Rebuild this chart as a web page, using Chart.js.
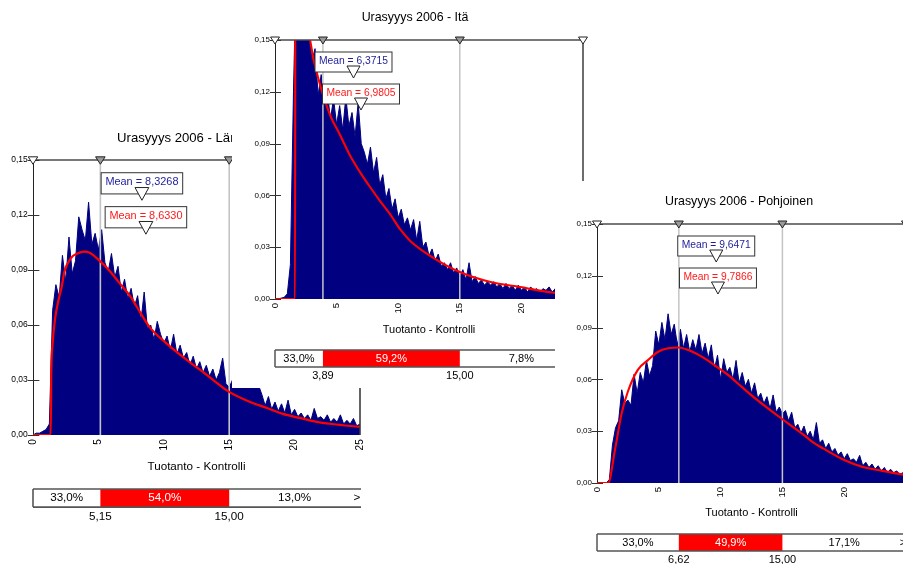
<!DOCTYPE html>
<html>
<head>
<meta charset="utf-8">
<script src="https://cdn.jsdelivr.net/npm/chart.js@4.4.0/dist/chart.umd.min.js"></script>
<style>
  html, body { margin: 0; padding: 0; background: #fff; overflow: hidden; }
  #stage { position: relative; width: 903px; height: 564px; overflow: hidden; background: #fff; }
  .panel { position: absolute; background: #fff; }
  .panel canvas { display: block; }
</style>
</head>
<body>
<div id="stage"></div>
<script>
const FONT = "'Liberation Sans', Arial, Helvetica, sans-serif";

// histogram bins start at 0 and are 0.25 wide
const binStep = 0.25;
const xTicks = [0, 5, 10, 15, 20, 25];
const yTicks = [0, 0.03, 0.06, 0.09, 0.12, 0.15];

const titles = ['Urasyyys 2006 - Länsi', 'Urasyyys 2006 - Itä', 'Urasyyys 2006 - Pohjoinen'];
const axisTitle = 'Tuotanto - Kontrolli';

const histLansi = [
  0.000, 0.001, 0.001, 0.002, 0.003, 0.006, 0.068, 0.082, 0.075, 0.098,
  0.084, 0.108, 0.088, 0.095, 0.119, 0.112, 0.106, 0.127, 0.104, 0.110,
  0.101, 0.112, 0.094, 0.089, 0.099, 0.086, 0.092, 0.078, 0.085, 0.074,
  0.080, 0.070, 0.076, 0.062, 0.078, 0.058, 0.060, 0.052, 0.062, 0.055,
  0.050, 0.054, 0.046, 0.055, 0.044, 0.049, 0.042, 0.045, 0.038, 0.043,
  0.036, 0.040, 0.034, 0.038, 0.032, 0.036, 0.030, 0.034, 0.042, 0.028,
  0.026, 0.030, 0.028, 0.031, 0.027, 0.030, 0.029, 0.026, 0.028, 0.027,
  0.022, 0.016, 0.021, 0.014, 0.018, 0.013, 0.017, 0.012, 0.019, 0.011,
  0.014, 0.010, 0.012, 0.009, 0.011, 0.008, 0.0145, 0.009, 0.010, 0.008,
  0.011, 0.007, 0.009, 0.007, 0.011, 0.006, 0.008, 0.006, 0.009, 0.005,
  0.006
];
const histIta = [
  0.000, 0.000, 0.0005, 0.001, 0.003, 0.020, 0.120, 0.200, 0.220, 0.200,
  0.180, 0.160, 0.138, 0.145, 0.118, 0.130, 0.112, 0.120, 0.104, 0.116,
  0.101, 0.112, 0.098, 0.117, 0.100, 0.108, 0.094, 0.114, 0.090, 0.085,
  0.078, 0.088, 0.073, 0.082, 0.066, 0.072, 0.058, 0.064, 0.052, 0.058,
  0.047, 0.052, 0.043, 0.047, 0.040, 0.046, 0.034, 0.045, 0.030, 0.033,
  0.025, 0.029, 0.022, 0.026, 0.019, 0.021, 0.017, 0.021, 0.015, 0.018,
  0.013, 0.017, 0.011, 0.021, 0.010, 0.013, 0.009, 0.011, 0.008, 0.010,
  0.008, 0.010, 0.007, 0.009, 0.006, 0.009, 0.006, 0.008, 0.005, 0.008,
  0.005, 0.007, 0.004, 0.007, 0.005, 0.006, 0.004, 0.006, 0.005, 0.007,
  0.004, 0.006, 0.004, 0.005, 0.004, 0.005, 0.003, 0.004, 0.003, 0.004,
  0.003
];
const histPohjoinen = [
  0.000, 0.000, 0.000, 0.000, 0.002, 0.022, 0.032, 0.036, 0.054, 0.046,
  0.048, 0.045, 0.063, 0.052, 0.064, 0.058, 0.071, 0.062, 0.068, 0.088,
  0.080, 0.093, 0.083, 0.098, 0.086, 0.092, 0.080, 0.089, 0.078, 0.086,
  0.076, 0.083, 0.077, 0.086, 0.075, 0.081, 0.072, 0.080, 0.066, 0.074,
  0.060, 0.072, 0.064, 0.067, 0.060, 0.071, 0.058, 0.064, 0.056, 0.060,
  0.052, 0.058, 0.049, 0.052, 0.046, 0.050, 0.043, 0.051, 0.041, 0.044,
  0.040, 0.042, 0.036, 0.041, 0.032, 0.034, 0.029, 0.033, 0.027, 0.030,
  0.025, 0.035, 0.023, 0.025, 0.020, 0.023, 0.018, 0.020, 0.016, 0.018,
  0.014, 0.017, 0.013, 0.014, 0.012, 0.016, 0.010, 0.012, 0.009, 0.011,
  0.008, 0.010, 0.007, 0.009, 0.006, 0.008, 0.006, 0.007, 0.005, 0.006,
  0.005
];

// fitted density curves (red)
const fitLansiX = [0, 1.35, 1.4, 1.5, 1.7, 1.9, 2.2, 2.4, 2.9, 3.4, 3.9, 4.3, 5.1, 5.8, 6.6, 7.4, 8.1, 8.9, 10.2, 11.75, 13.3, 15.0, 16.6, 17.9, 19.1, 20.4, 21.7, 22.9, 25];
const fitLansiY = [0, 0, 0.035, 0.05, 0.064, 0.072, 0.081, 0.089, 0.0965, 0.099, 0.100, 0.0995, 0.095, 0.090, 0.083, 0.076, 0.068, 0.059, 0.050, 0.041, 0.0327, 0.0235, 0.018, 0.0147, 0.0115, 0.0093, 0.0072, 0.006, 0.0044];
const fitItaX = [0, 1.63, 1.65, 2.0, 2.5, 2.85, 3.66, 4.47, 5.28, 6.1, 6.9, 7.7, 8.5, 9.35, 10.2, 11.0, 12.6, 15.0, 17.5, 19.9, 22.6, 25];
const fitItaY = [0, 0, 0.26, 0.22, 0.175, 0.15, 0.124, 0.1065, 0.095, 0.083, 0.0735, 0.065, 0.057, 0.049, 0.040, 0.0335, 0.025, 0.0156, 0.0098, 0.0069, 0.0036, 0.0025];
const fitPohjX = [0, 0.9, 1.45, 2.0, 2.5, 3.3, 4.1, 4.95, 5.75, 6.6, 7.4, 8.5, 9.55, 10.6, 11.7, 12.8, 14.7, 16.7, 17.4, 18.3, 20.0, 21.5, 22.75, 24.8, 25];
const fitPohjY = [0, 0, 0.019, 0.0405, 0.053, 0.0655, 0.071, 0.076, 0.078, 0.0785, 0.077, 0.073, 0.068, 0.0626, 0.0557, 0.049, 0.0385, 0.028, 0.024, 0.020, 0.0133, 0.0093, 0.0075, 0.0048, 0.0046];

const meanSim = [8.3268, 6.3715, 9.6471];
const meanFit = [8.6330, 6.9805, 9.7866];
const delimLo = [5.15, 3.89, 6.62];
const delimHi = [15.00, 15.00, 15.00];
const pctLeft = [33.0, 33.0, 33.0];
const pctMid = [54.0, 59.2, 49.9];
const pctRight = [13.0, 7.8, 17.1];

const hists = [histLansi, histIta, histPohjoinen];
const fitsX = [fitLansiX, fitItaX, fitPohjX];
const fitsY = [fitLansiY, fitItaY, fitPohjY];

// where each window sits on the page (page pixels)
const frames = [
  { left: 0,   top: 120, w: 380, h: 410, area: [33, 160, 360, 435],  titleX: 182, titleY: 138, axisTitleY: 467, s: 1.06 },
  { left: 232, top: 0,   w: 360, h: 388, area: [275, 40, 583, 299],  titleX: 415, titleY: 18,  axisTitleY: 330, s: 1 },
  { left: 555, top: 181, w: 370, h: 383, area: [597, 224, 906, 483], titleX: 739, titleY: 202, axisTitleY: 513, s: 1 }
];

const fmt = (v, d) => v.toFixed(d).replace('.', ',');

function line(ctx, x1, y1, x2, y2) {
  ctx.beginPath(); ctx.moveTo(x1, y1); ctx.lineTo(x2, y2); ctx.stroke();
}
function tri(ctx, cx, topY, hw, h, fill) {
  ctx.beginPath();
  ctx.moveTo(cx - hw, topY); ctx.lineTo(cx + hw, topY); ctx.lineTo(cx, topY + h);
  ctx.closePath();
  ctx.fillStyle = fill; ctx.fill();
  ctx.strokeStyle = '#222'; ctx.lineWidth = 1; ctx.stroke();
}

function overlay(i, s) {
  return {
    id: 'overlay' + i,
    beforeDatasetDraw(chart, args) {
      if (args.index !== 0) return;
      const { ctx, chartArea: a, scales: { x } } = chart;
      ctx.save();
      ctx.strokeStyle = '#c4c4c4';
      ctx.lineWidth = 1.5 * s;
      [delimLo[i], delimHi[i]].forEach(v => {
        const px = x.getPixelForValue(v);
        line(ctx, px, a.top, px, a.bottom);
      });
      ctx.restore();
    },
    afterDraw(chart) {
      const { ctx, chartArea: a, scales: { x, y } } = chart;
      const xr = x.getPixelForValue(x.max);
      const xl = x.getPixelForValue(delimLo[i]);
      const xh = x.getPixelForValue(delimHi[i]);
      ctx.save();

      ctx.strokeStyle = '#3c3c3c'; ctx.lineWidth = 1.5 * s;
      line(ctx, xr, a.top, xr, a.bottom);
      ctx.strokeStyle = '#4a4a4a'; ctx.lineWidth = 1.4 * s;
      line(ctx, a.left, a.top, xr, a.top);

      ctx.strokeStyle = '#333'; ctx.lineWidth = 1;
      yTicks.forEach(v => {
        const py = Math.round(y.getPixelForValue(v)) + 0.5;
        line(ctx, a.left - 5 * s, py, a.left + 6 * s, py);
      });

      tri(ctx, a.left, a.top - 3 * s, 4.5 * s, 7 * s, '#fff');
      tri(ctx, xr, a.top - 3 * s, 4.5 * s, 7 * s, '#fff');
      tri(ctx, xl, a.top - 3 * s, 4.5 * s, 7 * s, '#999');
      tri(ctx, xh, a.top - 3 * s, 4.5 * s, 7 * s, '#999');

      // mean markers
      ctx.font = (10.3 * s) + 'px ' + FONT;
      ctx.textAlign = 'center'; ctx.textBaseline = 'middle';
      [[meanSim[i], '#1e1e9a', 12], [meanFit[i], '#ff1a1a', 44]].forEach(([m, col, off]) => {
        const px = x.getPixelForValue(m);
        const txt = 'Mean = ' + fmt(m, 4);
        const bw = ctx.measureText(txt).width + 8 * s;
        const bt = a.top + off * s, bh = 20 * s;
        ctx.fillStyle = '#fff'; ctx.fillRect(px - bw / 2, bt, bw, bh);
        ctx.strokeStyle = '#333'; ctx.lineWidth = 1; ctx.strokeRect(px - bw / 2, bt, bw, bh);
        ctx.fillStyle = col; ctx.fillText(txt, px, bt + bh / 2 - 1 * s);
        tri(ctx, px, bt + bh - 6 * s, 6.5 * s, 12 * s, '#fff');
      });

      // probability bar
      const bt = a.bottom + 51 * s, bh = 17 * s;
      ctx.fillStyle = '#fff'; ctx.fillRect(a.left, bt, xr - a.left, bh);
      ctx.fillStyle = '#ff0000'; ctx.fillRect(xl, bt, xh - xl, bh);
      ctx.strokeStyle = '#555'; ctx.lineWidth = 1.5 * s;
      line(ctx, a.left, bt, xr + 1, bt);
      line(ctx, a.left, bt + bh, xr + 1, bt + bh);
      line(ctx, a.left, bt, a.left, bt + bh);
      ctx.font = (11 * s) + 'px ' + FONT;
      ctx.fillStyle = '#000';
      ctx.fillText(fmt(pctLeft[i], 1) + '%', (a.left + xl) / 2, bt + bh / 2);
      ctx.fillText(fmt(pctRight[i], 1) + '%', (xh + xr) / 2, bt + bh / 2);
      ctx.fillText('>', xr - 3 * s, bt + bh / 2);
      ctx.fillStyle = '#fff';
      ctx.fillText(fmt(pctMid[i], 1) + '%', (xl + xh) / 2, bt + bh / 2);
      ctx.fillStyle = '#000';
      ctx.fillText(fmt(delimLo[i], 2), xl, bt + bh + 9 * s);
      ctx.fillText(fmt(delimHi[i], 2), xh, bt + bh + 9 * s);
      ctx.restore();
    }
  };
}

const stage = document.getElementById('stage');
frames.forEach((f, i) => {
  const s = f.s;
  const div = document.createElement('div');
  div.className = 'panel';
  div.style.cssText = `left:${f.left}px;top:${f.top}px;width:${f.w}px;height:${f.h}px;z-index:${i + 1}`;
  const cv = document.createElement('canvas');
  div.appendChild(cv);
  stage.appendChild(div);

  const aL = f.area[0] - f.left, aT = f.area[1] - f.top, aR = f.area[2] - f.left, aB = f.area[3] - f.top;
  const padR = f.w - aR;
  const padL = 2 * (f.titleX - f.left) - aR;
  const yW = aL - padL;
  const tSize = 12.4 * s, tLH = tSize * 1.2;
  const tPadTop = (f.titleY - f.top) - tLH / 2;
  const tPadBot = aT - tPadTop - tLH;
  const xH = 40 * s;
  const atSize = 11 * s, atLH = atSize * 1.2;
  const atPadBot = (aB + xH) - (f.axisTitleY - f.top) - atLH / 2;
  const padB = f.h - aB - xH;

  new Chart(cv, {
    type: 'line',
    data: {
      datasets: [
        {
          data: fitsX[i].map((v, k) => ({ x: v, y: fitsY[i][k] })),
          borderColor: '#ff0000', borderWidth: 2.1 * s, pointRadius: 0,
          fill: false, cubicInterpolationMode: 'monotone'
        },
        {
          data: hists[i].map((v, k) => ({ x: k * binStep, y: v })),
          borderColor: '#000080', backgroundColor: '#000080', borderWidth: 1,
          pointRadius: 0, fill: 'origin', tension: 0
        }
      ]
    },
    options: {
      responsive: true, maintainAspectRatio: false, animation: false,
      layout: { padding: { left: padL, right: padR, top: 0, bottom: padB } },
      plugins: {
        legend: { display: false },
        tooltip: { enabled: false },
        title: {
          display: true, text: titles[i], color: '#000',
          font: { family: FONT, size: tSize, weight: 'normal', lineHeight: 1.2 },
          padding: { top: tPadTop, bottom: tPadBot }
        }
      },
      scales: {
        x: {
          type: 'linear', min: 0, max: 25,
          afterBuildTicks: sc => { sc.ticks = xTicks.map(v => ({ value: v })); },
          afterFit: sc => { sc.height = xH; sc.paddingLeft = 0; sc.paddingRight = 0; },
          grid: { display: false, drawTicks: false, tickLength: 0 },
          border: { display: false },
          ticks: {
            minRotation: 90, maxRotation: 90, autoSkip: false, padding: 4 * s,
            color: '#000', font: { family: FONT, size: 9.5 * s },
            callback: v => String(v)
          },
          title: {
            display: true, text: axisTitle, color: '#000',
            font: { family: FONT, size: atSize, lineHeight: 1.2 },
            padding: { top: 0, bottom: atPadBot }
          }
        },
        y: {
          min: 0, max: 0.15,
          afterBuildTicks: sc => { sc.ticks = yTicks.map(v => ({ value: v })); },
          afterFit: sc => { sc.width = yW; sc.paddingTop = 0; sc.paddingBottom = 0; },
          grid: { display: false, drawTicks: false, tickLength: 0 },
          border: { display: true, color: '#222', width: 1 },
          ticks: {
            padding: 5 * s, color: '#000',
            font: { family: FONT, size: 8 * s },
            callback: v => fmt(v, 2)
          }
        }
      }
    },
    plugins: [overlay(i, s)]
  });
});
</script>
</body>
</html>
